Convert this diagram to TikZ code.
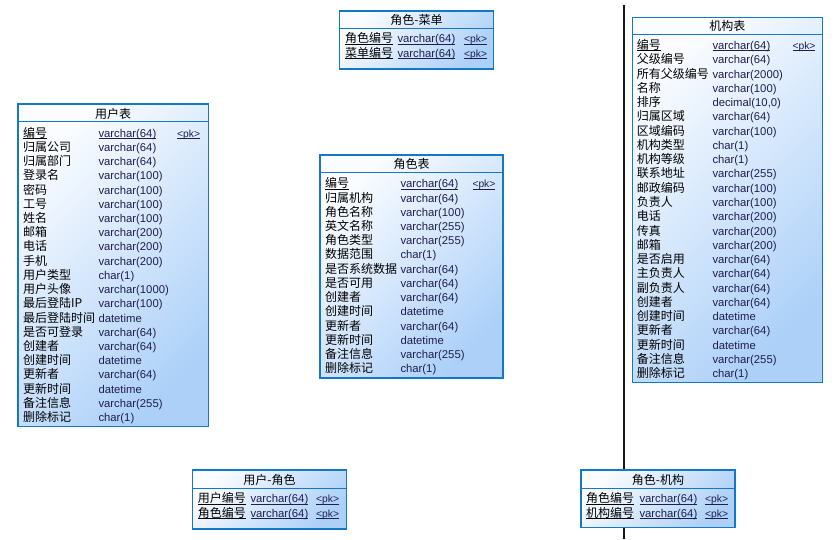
\documentclass[tikz,border=0pt]{standalone}
\usepackage{fontspec}
\setmainfont{Liberation Sans}
\newfontfamily\cjk{Noto Sans CJK SC}
\definecolor{bordc}{RGB}{20,120,200}
\definecolor{fillA}{RGB}{250,252,255}
\definecolor{fillB}{RGB}{172,208,248}
\definecolor{typc}{RGB}{30,30,80}
\newsavebox\ulbox
\newcommand\myul[1]{\sbox\ulbox{#1}\rlap{\rule[-1.6pt]{\wd\ulbox}{0.7pt}}\usebox\ulbox}
\tikzset{
 tbl/.style={draw=bordc, line width=1.2pt, rectangle, inner sep=0pt, outer sep=0pt, anchor=north west, left color=fillA, right color=fillB, shading angle=45},
 ttl/.style={anchor=base, inner sep=0pt, font=\cjk\fontsize{12}{14}\selectfont},
 nm/.style={anchor=base west, inner sep=0pt, font=\cjk\fontsize{12}{14}\selectfont},
 ty/.style={anchor=base west, inner sep=0pt, text=typc, font=\fontsize{11.3}{13}\selectfont},
 pkc/.style={anchor=base west, inner sep=0pt, text=typc, font=\fontsize{10.3}{12}\selectfont},
 hline/.style={draw=bordc, line width=1pt},
}
\newcommand\myrows[6]{% prefix, xname, xtype, y0 (baseline), step, list
 \foreach \nmx/\tpx [count=\ii] in {#6}{%
   \pgfmathsetmacro\yy{#4+#5*(\ii-1)}%
   \node[nm] (#1n\ii) at (#2,\yy) {\nmx};
   \node[ty] (#1t\ii) at (#3,\yy) {\tpx};
 }}
\begin{document}
\begin{tikzpicture}[x=1pt,y=-1pt]
\useasboundingbox (0,0) rectangle (838,539);
% vertical separator line
\coordinate (vtop) at (624,5);
\coordinate (vbot) at (624,539);
\draw[line width=1.3pt, black!90] (vtop) -- (vbot);

% ---------- 角色-菜单 ----------
\node[tbl, minimum width=154pt, minimum height=58pt] (rm) at (339.5,11) {};
\draw[hline] ([yshift=-17.5pt]rm.north west) -- ([yshift=-17.5pt]rm.north east);
\node[ttl] (rmT) at (416.5,24.5) {角色-菜单};
\node[nm] (rmn1) at (345,42.8) {\myul{角色编号}};
\node[ty] (rmt1) at (397.3,42.8) {\myul{varchar(64)}};
\node[pkc] (rmp1) at (464,42.8) {\myul{<pk>}};
\node[nm] (rmn2) at (345,57.2) {\myul{菜单编号}};
\node[ty] (rmt2) at (397.3,57.2) {\myul{varchar(64)}};
\node[pkc] (rmp2) at (464,57.2) {\myul{<pk>}};

% ---------- 用户表 ----------
\node[tbl, minimum width=190.3pt, minimum height=322.7pt] (usr) at (18,104) {};
\draw[hline] ([yshift=-17.5pt]usr.north west) -- ([yshift=-17.5pt]usr.north east);
\node[ttl] (usrT) at (113.2,118.3) {用户表};
\node[nm] (usrn0) at (23,137.2) {\myul{编号}};
\node[ty] (usrt0) at (98.3,137.2) {\myul{varchar(64)}};
\node[pkc] (usrp0) at (177,137.2) {\myul{<pk>}};
\myrows{usr}{23}{98.3}{151.42}{14.22}{归属公司/varchar(64), 归属部门/varchar(64), 登录名/varchar(100), 密码/varchar(100), 工号/varchar(100), 姓名/varchar(100), 邮箱/varchar(200), 电话/varchar(200), 手机/varchar(200), 用户类型/char(1), 用户头像/varchar(1000), 最后登陆IP/varchar(100), 最后登陆时间/datetime, 是否可登录/varchar(64), 创建者/varchar(64), 创建时间/datetime, 更新者/varchar(64), 更新时间/datetime, 备注信息/varchar(255), 删除标记/char(1)}

% ---------- 角色表 ----------
\node[tbl, minimum width=183pt, minimum height=223pt] (role) at (320,155) {};
\draw[hline] ([yshift=-17.5pt]role.north west) -- ([yshift=-17.5pt]role.north east);
\node[ttl] (roleT) at (411.5,168.5) {角色表};
\node[nm] (rolen0) at (325,187.8) {\myul{编号}};
\node[ty] (rolet0) at (400.3,187.8) {\myul{varchar(64)}};
\node[pkc] (rolep0) at (472.3,187.8) {\myul{<pk>}};
\myrows{role}{325}{400.3}{202.02}{14.22}{归属机构/varchar(64), 角色名称/varchar(100), 英文名称/varchar(255), 角色类型/varchar(255), 数据范围/char(1), 是否系统数据/varchar(64), 是否可用/varchar(64), 创建者/varchar(64), 创建时间/datetime, 更新者/varchar(64), 更新时间/datetime, 备注信息/varchar(255), 删除标记/char(1)}

% ---------- 机构表 ----------
\node[tbl, minimum width=190pt, minimum height=365.5pt] (org) at (632.3,17.3) {};
\draw[hline] ([yshift=-17.5pt]org.north west) -- ([yshift=-17.5pt]org.north east);
\node[ttl] (orgT) at (727.3,30.5) {机构表};
\node[nm] (orgn0) at (636.7,49.5) {\myul{编号}};
\node[ty] (orgt0) at (712.3,49.5) {\myul{varchar(64)}};
\node[pkc] (orgp0) at (792.3,49.5) {\myul{<pk>}};
\myrows{org}{636.7}{712.3}{63.77}{14.27}{父级编号/varchar(64), 所有父级编号/varchar(2000), 名称/varchar(100), 排序/{decimal(10,0)}, 归属区域/varchar(64), 区域编码/varchar(100), 机构类型/char(1), 机构等级/char(1), 联系地址/varchar(255), 邮政编码/varchar(100), 负责人/varchar(100), 电话/varchar(200), 传真/varchar(200), 邮箱/varchar(200), 是否启用/varchar(64), 主负责人/varchar(64), 副负责人/varchar(64), 创建者/varchar(64), 创建时间/datetime, 更新者/varchar(64), 更新时间/datetime, 备注信息/varchar(255), 删除标记/char(1)}

% ---------- 用户-角色 ----------
\node[tbl, minimum width=154.4pt, minimum height=59pt] (ur) at (192.3,470) {};
\draw[hline] ([yshift=-18.5pt]ur.north west) -- ([yshift=-18.5pt]ur.north east);
\node[ttl] (urT) at (269.5,484.5) {用户-角色};
\node[nm] (urn1) at (197.7,502.8) {\myul{用户编号}};
\node[ty] (urt1) at (250.3,502.8) {\myul{varchar(64)}};
\node[pkc] (urp1) at (316,502.8) {\myul{<pk>}};
\node[nm] (urn2) at (197.7,517.2) {\myul{角色编号}};
\node[ty] (urt2) at (250.3,517.2) {\myul{varchar(64)}};
\node[pkc] (urp2) at (316,517.2) {\myul{<pk>}};

% ---------- 角色-机构 ----------
\node[tbl, minimum width=154pt, minimum height=57.3pt] (ro) at (581,470) {};
\draw[hline] ([yshift=-18.5pt]ro.north west) -- ([yshift=-18.5pt]ro.north east);
\node[ttl] (roT) at (658,484.5) {角色-机构};
\node[nm] (ron1) at (586,502.8) {\myul{角色编号}};
\node[ty] (rot1) at (639.3,502.8) {\myul{varchar(64)}};
\node[pkc] (rop1) at (705,502.8) {\myul{<pk>}};
\node[nm] (ron2) at (586,517.2) {\myul{机构编号}};
\node[ty] (rot2) at (639.3,517.2) {\myul{varchar(64)}};
\node[pkc] (rop2) at (705,517.2) {\myul{<pk>}};
\end{tikzpicture}
\end{document}
